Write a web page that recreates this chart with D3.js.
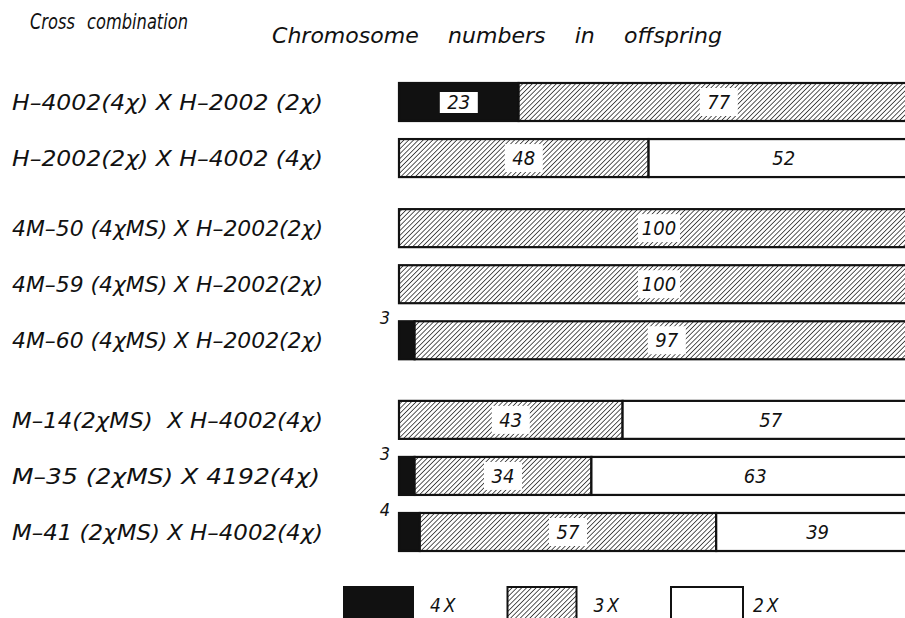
<!DOCTYPE html>
<html>
<head>
<meta charset="utf-8">
<script src="https://cdn.jsdelivr.net/npm/d3@7"></script>
<style>
  html, body { margin: 0; padding: 0; background: #fff; }
  svg { display: block; }
  text { font-family: "DejaVu Sans Condensed", "Liberation Sans Narrow", "DejaVu Sans", sans-serif; font-style: italic; fill: #111; white-space: pre; }
</style>
</head>
<body>
<div id="chart"></div>
<script>
//////////////////////////// data /////////////////////////////////////////

const crosses = [
	"H\u20134002(4\u03c7) X H\u20132002 (2\u03c7)",
	"H\u20132002(2\u03c7) X H\u20134002 (4\u03c7)",
	"4M\u201350 (4\u03c7MS) X H\u20132002(2\u03c7)",
	"4M\u201359 (4\u03c7MS) X H\u20132002(2\u03c7)",
	"4M\u201360 (4\u03c7MS) X H\u20132002(2\u03c7)",
	"M\u201314(2\u03c7MS)  X H\u20134002(4\u03c7)",
	"M\u201335 (2\u03c7MS) X 4192(4\u03c7)",
	"M\u201341 (2\u03c7MS) X H\u20134002(4\u03c7)"
];
const groupOf = [0, 0, 1, 1, 1, 2, 2, 2];
const pct4x = [23, 0, 0, 0, 3, 0, 3, 4];
const pct3x = [77, 48, 100, 100, 97, 43, 34, 57];
const pct2x = [0, 52, 0, 0, 0, 57, 63, 39];

const ploidy = ["4X", "3X", "2X"];
const titleLeft = "Cross combination";
const titleRight = "Chromosome numbers in offspring";

//////////////////////////// sizes ////////////////////////////////////////

const width = 905, height = 618;
const barLeft = 399;
const barH = 38;
// extra space (in row steps) added before each group
const groupOffset = [0, 0.25, 0.67];

const svg = d3.select("#chart").append("svg")
	.attr("width", width).attr("height", height);

// hatch pattern
const defs = svg.append("defs");
defs.append("pattern")
	.attr("id", "hatch")
	.attr("patternUnits", "userSpaceOnUse")
	.attr("width", 3.4).attr("height", 3.4)
	.attr("patternTransform", "rotate(45)")
	.call(p => {
		p.append("rect").attr("width", 3.4).attr("height", 3.4).attr("fill", "#fff");
		p.append("line").attr("x1", 0).attr("y1", 0).attr("x2", 0).attr("y2", 3.4)
			.attr("stroke", "#111").attr("stroke-width", 1.4);
	});

//////////////////////////// scales ///////////////////////////////////////

const xScale = d3.scaleLinear().domain([0, 100]).range([barLeft, barLeft + 520]);
const slot = (i) => i + groupOffset[groupOf[i]];
const yScale = d3.scaleLinear()
	.domain([0, slot(7)])
	.range([102, 532]);

const fills = { "4X": "#111", "3X": "url(#hatch)", "2X": "#fff" };

// build segment table
const segs = [];
crosses.forEach((c, i) => {
	const vals = [pct4x[i], pct3x[i], pct2x[i]];
	let acc = 0;
	vals.forEach((v, k) => {
		if (v > 0) segs.push({ row: i, type: ploidy[k], start: acc, value: v });
		acc += v;
	});
});

//////////////////////////// titles ///////////////////////////////////////

svg.append("text").attr("x", 30).attr("y", 29)
	.style("font-size", "21px")
	.attr("word-spacing", "8px")
	.attr("textLength", 158).attr("lengthAdjust", "spacingAndGlyphs")
	.text(titleLeft);
svg.append("text").attr("x", 272).attr("y", 43)
	.style("font-size", "22px")
	.attr("word-spacing", "20px")
	.attr("textLength", 450).attr("lengthAdjust", "spacingAndGlyphs")
	.text(titleRight);

//////////////////////////// row labels ///////////////////////////////////

svg.selectAll(".rowLabel")
	.data(crosses)
	.join("text")
	.attr("class", "rowLabel")
	.attr("x", 12)
	.attr("y", (d, i) => yScale(slot(i)) + 8)
	.style("font-size", "22px")
	.attr("textLength", (d, i) => (i === 6 ? 308 : 311))
	.attr("lengthAdjust", "spacingAndGlyphs")
	.text(d => d);

//////////////////////////// bars /////////////////////////////////////////

svg.selectAll(".seg")
	.data(segs)
	.join("rect")
	.attr("class", "seg")
	.attr("x", d => xScale(d.start))
	.attr("y", d => yScale(slot(d.row)) - barH / 2)
	.attr("width", d => xScale(d.start + d.value) - xScale(d.start))
	.attr("height", barH)
	.attr("fill", d => fills[d.type])
	.attr("stroke", "#111")
	.attr("stroke-width", 2.2);

// value labels inside bars (skip the tiny ones)
const inside = segs.filter(d => d.value >= 10);
const lbl = svg.selectAll(".val")
	.data(inside)
	.join("g")
	.attr("class", "val")
	.attr("transform", d =>
		`translate(${(xScale(d.start) + xScale(d.start + d.value)) / 2},${yScale(slot(d.row))})`);

lbl.filter(d => d.type !== "2X")
	.append("rect")
	.attr("x", d => (String(d.value).length > 2 ? -21 : -19))
	.attr("width", d => (String(d.value).length > 2 ? 42 : 38))
	.attr("y", d => (d.type === "4X" ? -10 : -14))
	.attr("height", d => (d.type === "4X" ? 21 : 28))
	.attr("fill", "#fff");

lbl.append("text")
	.attr("text-anchor", "middle")
	.attr("y", 7)
	.style("font-size", "20px")
	.text(d => d.value);

// small values written above-left of the bar
svg.selectAll(".small")
	.data(segs.filter(d => d.value < 10))
	.join("text")
	.attr("class", "small")
	.attr("x", barLeft - 14)
	.attr("y", d => yScale(slot(d.row)) - barH / 2 + 3)
	.attr("text-anchor", "middle")
	.style("font-size", "18px")
	.text(d => d.value);

//////////////////////////// legend ///////////////////////////////////////

const legendX = d3.scalePoint().domain(ploidy).range([344, 671]);
const leg = svg.selectAll(".leg")
	.data(ploidy)
	.join("g")
	.attr("class", "leg")
	.attr("transform", d => `translate(${legendX(d)},587)`);

leg.append("rect")
	.attr("width", d => (d === "2X" ? 72 : 69))
	.attr("height", 40)
	.attr("fill", d => fills[d])
	.attr("stroke", "#111")
	.attr("stroke-width", 2);

leg.append("text")
	.attr("x", d => (d === "2X" ? 82 : 86))
	.attr("y", 25)
	.style("font-size", "19px")
	.attr("letter-spacing", "3px")
	.text(d => d);
</script>
</body>
</html>
